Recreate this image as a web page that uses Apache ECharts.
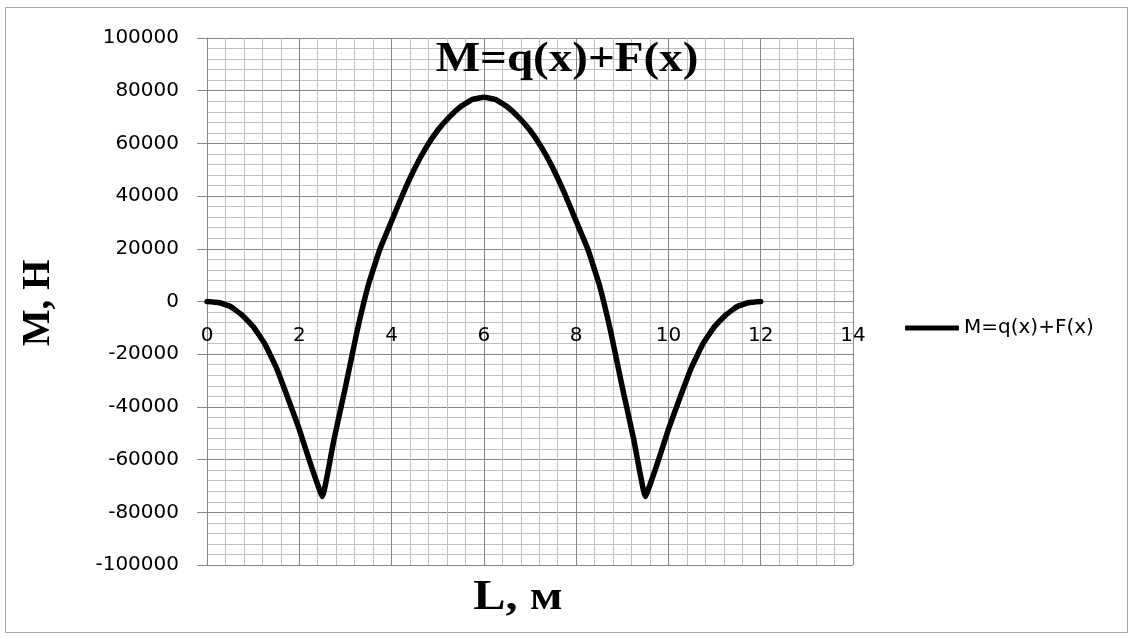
<!DOCTYPE html>
<html>
<head>
<meta charset="utf-8">
<script src="https://cdn.jsdelivr.net/npm/echarts@6/dist/echarts.min.js"></script>
<style>
  html, body { margin: 0; padding: 0; background: #ffffff; }
  #chart { width: 1133px; height: 639px; }
</style>
</head>
<body>
<div id="chart"></div>
<script>
// Beam position along the span, m
const xPositions = [
  0, 0.25, 0.5, 0.75, 1, 1.25, 1.5, 1.75, 2, 2.25, 2.5,
  2.75, 3, 3.25, 3.5, 3.75, 4, 4.25, 4.5, 4.75, 5, 5.25, 5.5, 5.75,
  6, 6.25, 6.5, 6.75, 7, 7.25, 7.5, 7.75, 8, 8.25, 8.5, 8.75, 9, 9.25,
  9.5, 9.75, 10, 10.25, 10.5, 10.75, 11, 11.25, 11.5, 11.75, 12
];
// Bending moment M = q(x) + F(x) at each position
const momentValues = [
  0, -400, -1800, -5000, -9500, -16000, -25000, -36500, -48500, -62000, -74000,
  -52500, -32500, -11500, 6500, 20000, 30500, 41000, 50500, 58500, 65000, 70000, 74000, 76700,
  77500, 76700, 74000, 70000, 65000, 58500, 50500, 41000, 30500, 20000, 6500, -11500, -32500, -52500,
  -74000, -62000, -48500, -36500, -25000, -16000, -9500, -5000, -1800, -400, 0
];
const seriesName = 'M=q(x)+F(x)';
const chartTitle = 'M=q(x)+F(x)';
const xAxisTitle = 'L, м';
const yAxisTitle = 'M, H';
const xTicks = { min: 0, max: 14, step: 2 };
const yTicks = { min: -100000, max: 100000, step: 20000 };

const points = xPositions.map((x, i) => [x, momentValues[i]]);

const plot = { left: 207, top: 38, width: 646, height: 527 };
// The x axis sits on the M = 0 line, so lift it from the bottom edge by that distance
const zeroLift = plot.height * (0 - yTicks.min) / (yTicks.max - yTicks.min);

const chart = echarts.init(document.getElementById('chart'), null, { renderer: 'canvas' });

const labelFont = "'DejaVu Sans', sans-serif";
const majorColor = '#868686';
const minorColor = '#c0c0c0';

chart.setOption({
  animation: false,
  backgroundColor: '#ffffff',
  grid: { left: plot.left, top: plot.top, width: plot.width, height: plot.height, containLabel: false },
  legend: {
    left: 905,
    top: 318,
    padding: 0,
    itemWidth: 54,
    itemHeight: 5,
    textStyle: { fontFamily: labelFont, fontSize: 20, color: '#000000' },
    data: [{ name: seriesName, icon: 'roundRect', itemStyle: { color: '#000000' } }]
  },
  xAxis: {
    type: 'value',
    position: 'bottom',
    offset: -zeroLift,
    min: xTicks.min,
    max: xTicks.max,
    interval: xTicks.step,
    axisLine: { show: true, onZero: false, lineStyle: { color: majorColor, width: 1 } },
    axisTick: { show: false },
    axisLabel: { margin: 24, fontFamily: labelFont, fontSize: 20, color: '#000000' },
    splitLine: { show: true, lineStyle: { color: majorColor, width: 1 } },
    minorTick: { show: false, splitNumber: 5 },
    minorSplitLine: { show: true, lineStyle: { color: minorColor, width: 1 } }
  },
  yAxis: {
    type: 'value',
    min: yTicks.min,
    max: yTicks.max,
    interval: yTicks.step,
    axisLine: { show: true, onZero: false, lineStyle: { color: majorColor, width: 1 } },
    axisTick: { show: true, inside: false, length: 10, lineStyle: { color: majorColor } },
    axisLabel: {
      margin: 28, fontFamily: labelFont, fontSize: 20, color: '#000000',
      formatter: v => String(v)
    },
    splitLine: { show: true, lineStyle: { color: majorColor, width: 1 } },
    minorTick: { show: false, splitNumber: 5 },
    minorSplitLine: { show: true, lineStyle: { color: minorColor, width: 1 } }
  },
  series: [{
    name: seriesName,
    type: 'line',
    data: points,
    symbol: 'none',
    smooth: 0.1,
    lineStyle: { color: '#000000', width: 5.5, cap: 'round', join: 'round' },
    itemStyle: { color: '#000000' },
    z: 5
  }],
  graphic: [
    {
      type: 'rect',
      shape: { x: 5.5, y: 7.5, width: 1122, height: 625 },
      style: { fill: 'none', stroke: '#a6a6a6', lineWidth: 1 },
      z: -10, silent: true
    },
    {
      type: 'text',
      x: 567, y: 60, scaleX: 1.12,
      style: {
        text: chartTitle,
        font: "bold 42px 'Liberation Serif', serif",
        fill: '#000000',
        textAlign: 'center',
        textVerticalAlign: 'middle'
      },
      z: 10
    },
    {
      type: 'text',
      x: 518, y: 598, scaleX: 1.15,
      style: {
        text: xAxisTitle,
        font: "bold 42px 'Liberation Serif', serif",
        fill: '#000000',
        textAlign: 'center',
        textVerticalAlign: 'middle'
      }
    },
    {
      type: 'text',
      x: 39, y: 303, rotation: Math.PI / 2,
      style: {
        text: yAxisTitle,
        font: "bold 39px 'Liberation Serif', serif",
        fill: '#000000',
        textAlign: 'center',
        textVerticalAlign: 'middle'
      }
    }
  ]
});
</script>
</body>
</html>
